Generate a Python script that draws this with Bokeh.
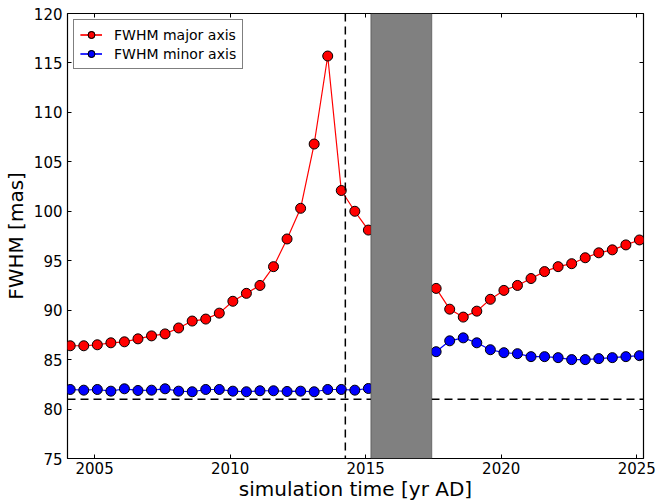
from bokeh.plotting import figure
from bokeh.models import (Range1d, BoxAnnotation, Span, Legend, LegendItem,
                          LinearAxis, FixedTicker, ColumnDataSource)
from bokeh.embed import file_html
from bokeh.resources import INLINE

# ---- data ----
t_before = [2004.1, 2004.6, 2005.1, 2005.6, 2006.1, 2006.6, 2007.1, 2007.6,
            2008.1, 2008.6, 2009.1, 2009.6, 2010.1, 2010.6, 2011.1, 2011.6,
            2012.1, 2012.6, 2013.1, 2013.6, 2014.1, 2014.6, 2015.1]
major_before = [86.4, 86.4, 86.5, 86.7, 86.8, 87.1, 87.4, 87.6, 88.2, 88.9,
                89.1, 89.7, 90.9, 91.7, 92.5, 94.4, 97.2, 100.3, 106.8, 115.7,
                102.1, 100.0, 98.1]
minor_before = [81.98, 81.91, 81.98, 81.81, 82.05, 81.88, 81.91, 82.05, 81.81,
                81.75, 81.98, 81.98, 81.81, 81.75, 81.85, 81.85, 81.78, 81.81,
                81.75, 81.98, 81.98, 81.91, 82.08]

t_after = [2017.6, 2018.1, 2018.6, 2019.1, 2019.6, 2020.1, 2020.6, 2021.1,
           2021.6, 2022.1, 2022.6, 2023.1, 2023.6, 2024.1, 2024.6, 2025.1]
major_after = [92.2, 90.1, 89.3, 89.9, 91.1, 92.0, 92.5, 93.2, 93.9, 94.4,
               94.7, 95.3, 95.8, 96.1, 96.6, 97.1]
minor_after = [85.8, 86.9, 87.2, 86.7, 86.0, 85.7, 85.6, 85.3, 85.3, 85.2,
               85.0, 85.0, 85.1, 85.2, 85.3, 85.4]

x_ticks = [2005, 2010, 2015, 2020, 2025]
y_ticks = [75, 80, 85, 90, 95, 100, 105, 110, 115, 120]

reference_level = 81.0
periapse_time = 2014.25
gap_start, gap_end = 2015.19, 2017.44

x_label = "simulation time [yr AD]"
y_label = "FWHM [mas]"
label_major = "FWHM major axis"
label_minor = "FWHM minor axis"

FONT = "DejaVu Sans"

p = figure(width=658, height=504, output_backend="svg", toolbar_location=None,
           x_range=Range1d(2004.0, 2025.25), y_range=Range1d(75, 120),
           min_border_left=67, min_border_right=15, min_border_top=13,
           min_border_bottom=46, background_fill_color="white",
           border_fill_color="white")
p.grid.visible = False
p.outline_line_color = "black"
p.outline_line_width = 1.2

# main axes
for ax, ticks in ((p.xaxis[0], x_ticks), (p.yaxis[0], y_ticks)):
    ax.ticker = FixedTicker(ticks=ticks)
    ax.minor_tick_line_color = None
    ax.major_tick_in = 4
    ax.major_tick_out = 0
    ax.axis_line_color = None
    ax.major_tick_line_color = "black"
    ax.major_label_text_font = FONT
    ax.major_label_text_font_size = "15px"
    ax.major_label_text_color = "black"
    ax.axis_label_text_font = FONT
    ax.axis_label_text_font_size = "20px"
    ax.axis_label_text_font_style = "normal"
    ax.axis_label_text_color = "black"
p.xaxis[0].axis_label = x_label
p.yaxis[0].axis_label = y_label
p.xaxis[0].major_label_standoff = 3
p.xaxis[0].axis_label_standoff = 0
p.yaxis[0].major_label_standoff = 5
p.yaxis[0].axis_label_standoff = 3

# mirrored ticks on top and right (no labels)
top = LinearAxis(ticker=FixedTicker(ticks=x_ticks),
                 major_label_overrides={t: "" for t in x_ticks})
right = LinearAxis(ticker=FixedTicker(ticks=y_ticks),
                   major_label_overrides={t: "" for t in y_ticks})
for ax in (top, right):
    ax.minor_tick_line_color = None
    ax.major_tick_in = 4
    ax.major_tick_out = 0
    ax.axis_line_color = None
    ax.major_label_standoff = 0
    ax.major_label_text_font_size = "15px"
p.add_layout(top, "above")
p.add_layout(right, "right")

# reference lines
p.add_layout(Span(location=reference_level, dimension="width",
                  line_color="black", line_dash="8 5", line_width=1.5))
p.add_layout(Span(location=periapse_time, dimension="height",
                  line_color="black", line_dash="8 5", line_width=1.5))

src_mb = ColumnDataSource(dict(t=t_before, v=major_before))
src_ma = ColumnDataSource(dict(t=t_after, v=major_after))
src_nb = ColumnDataSource(dict(t=t_before, v=minor_before))
src_na = ColumnDataSource(dict(t=t_after, v=minor_after))

items = []
for (s1, s2, color, label) in ((src_mb, src_ma, "#ff0000", label_major),
                               (src_nb, src_na, "#0000ff", label_minor)):
    rs = []
    for s in (s1, s2):
        ln = p.line("t", "v", source=s, line_color=color, line_width=1.2)
        sc = p.scatter("t", "v", source=s, size=10, fill_color=color,
                       line_color="black", line_width=1)
        rs += [ln, sc]
    items.append(LegendItem(label=label, renderers=rs))

# grey data gap
p.add_layout(BoxAnnotation(left=gap_start, right=gap_end,
                           fill_color="#808080", fill_alpha=1.0,
                           line_color="black", line_width=1.2))

legend = Legend(items=items, location="top_left")
legend.margin = 6
legend.padding = 6
legend.spacing = 2
legend.label_height = 17
legend.glyph_height = 17
legend.glyph_width = 22
legend.label_standoff = 12
legend.label_text_font = FONT
legend.label_text_font_size = "14px"
legend.label_text_color = "black"
legend.border_line_color = "black"
legend.border_line_width = 1
legend.background_fill_alpha = 1.0
p.add_layout(legend)

open("out.html", "w").write(file_html(p, INLINE))
